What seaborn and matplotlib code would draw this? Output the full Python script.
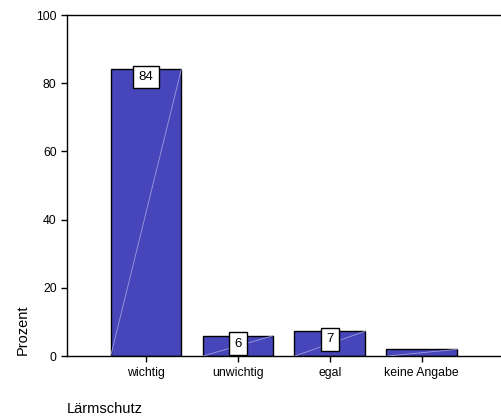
import matplotlib
matplotlib.use("Agg")
import matplotlib.pyplot as plt
import seaborn as sns
import pandas as pd

# data
categories = ["wichtig", "unwichtig", "egal", "keine Angabe"]
percent = [84.2, 6.0, 7.3, 2.0]
bar_labels = ["84", "6", "7", ""]

df = pd.DataFrame({"Lärmschutz": categories, "Prozent": percent})

sns.set_style("white")
plt.rcParams["font.family"] = ["Liberation Sans", "DejaVu Sans"]
plt.rcParams["text.color"] = "black"

fig = plt.figure(figsize=(5.01, 4.18), dpi=100)
ax = fig.add_axes([0.1337, 0.148, 0.866, 0.816])

sns.barplot(data=df, x="Lärmschutz", y="Prozent", color="#4646BA",
            saturation=1, width=0.77, edgecolor="black", linewidth=1, ax=ax)

# thin diagonal line inside each bar (SPSS style)
for p in ax.patches:
    x0, y0 = p.get_x(), p.get_y()
    ax.plot([x0, x0 + p.get_width()], [y0, y0 + p.get_height()],
            color="#9C9CE0", lw=0.6, zorder=3)

# value labels in white boxes just below the bar top
for i, (v, lab) in enumerate(zip(percent, bar_labels)):
    if lab:
        ax.text(i, v - 0.6, lab, ha="center", va="top", fontsize=9.5, zorder=5,
                color="black",
                bbox=dict(boxstyle="square,pad=0.4", fc="white", ec="black", lw=1))

ax.set_xlim(-0.86, 3.86)
ax.set_ylim(0, 100)
ax.set_yticks([0, 20, 40, 60, 80, 100])
ax.tick_params(axis="both", labelsize=8.8, length=4, width=1, color="black",
               labelcolor="black", direction="out", bottom=True, left=True)
for s in ["left", "bottom", "top"]:
    ax.spines[s].set_color("black")
    ax.spines[s].set_linewidth(1)
ax.spines["right"].set_visible(False)

ax.set_xlabel("")
ax.set_ylabel("")
fig.text(0.045, 0.21, "Prozent", rotation=90, ha="center", va="center", fontsize=10.5)
fig.text(0.134, 0.022, "Lärmschutz", ha="left", va="center", fontsize=10.5)

fig.savefig("out.png", dpi=100)
